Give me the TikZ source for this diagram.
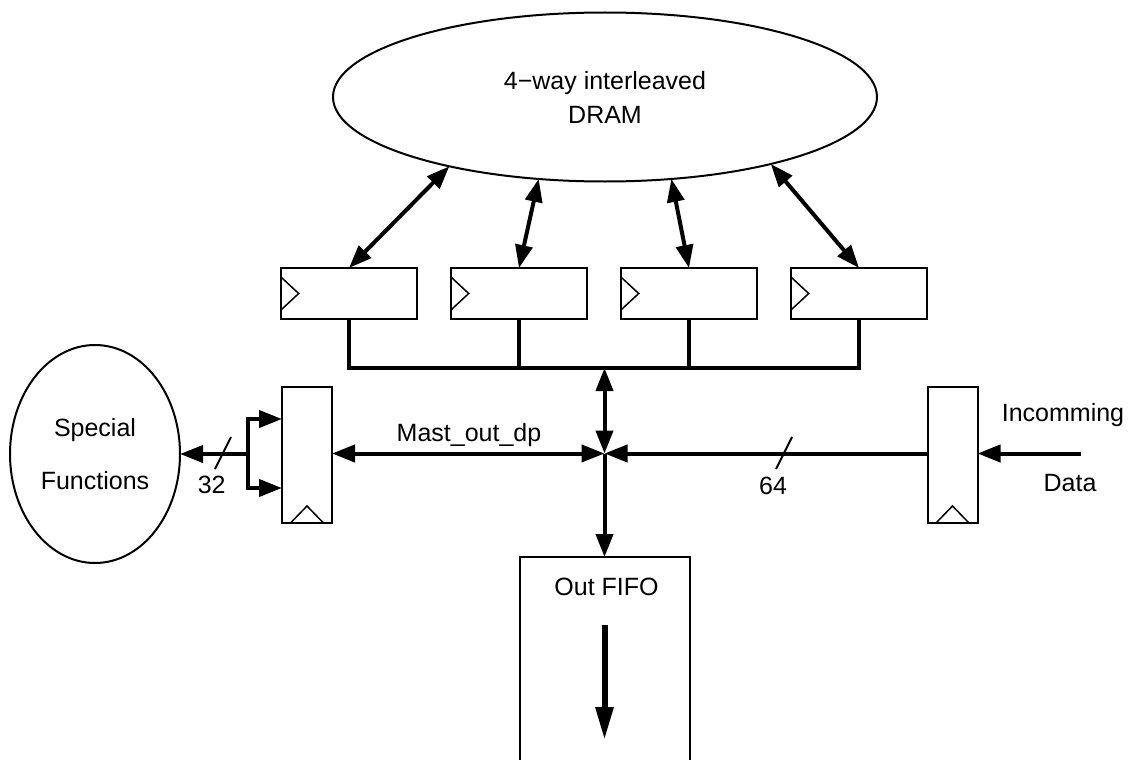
\documentclass[tikz,border=0pt]{standalone}
\usepackage{fontspec}
\setmainfont{Liberation Sans}
\usetikzlibrary{arrows.meta,shapes.geometric}

\begin{document}
\begin{tikzpicture}[x=1pt,y=-1pt,
  font=\fontsize{25}{34}\selectfont,
  >={Triangle[length=23pt,width=17pt]},
  thinline/.style={line width=2pt},
  bus/.style={line width=4pt},
  blob/.style={ellipse,draw,thinline,inner sep=0pt,outer sep=0pt,align=center},
  regbox/.style={draw,thinline,inner sep=0pt,outer sep=0pt,minimum width=136.6pt,minimum height=51pt},
  vreg/.style={draw,thinline,inner sep=0pt,outer sep=0pt,minimum width=50pt,minimum height=136pt},
  clock/.style={line width=1.5pt},
  txt/.style={anchor=base,inner sep=0pt}]
\useasboundingbox (0,0) rectangle (1133,760);

% memory
\node[blob,minimum width=544pt,minimum height=169pt] (dram) at (605,97) {4−way interleaved\\DRAM};

% bank registers
\foreach \i/\x in {1/349,2/519,3/689,4/859}{
  \node[regbox] (r\i) at (\x,293.5) {};
  \draw[clock] ([yshift=16.7pt]r\i.west) -- ([xshift=18pt]r\i.west) -- ([yshift=-16.7pt]r\i.west);
}
\draw[bus,<->] (dram.204.1) -- (r1.north);
\draw[bus,<->] (dram.231.2) -- (r2.north);
\draw[bus,<->] (dram.309.7) -- (r3.north);
\draw[bus,<->] (dram.338.8) -- (r4.north);

% collecting bus
\coordinate (bus) at (604.5,368);
\coordinate (jn) at (604.5,453.5);
\draw[bus] (r1.south) |- (bus) -| (r4.south);
\draw[bus] (r2.south) -- (r2.south |- bus);
\draw[bus] (r3.south) -- (r3.south |- bus);
\draw[bus,<->] (bus) -- (jn);

% output FIFO
\node[inner sep=0pt,outer sep=0pt,minimum width=170pt,minimum height=206pt] (fifo) at (604.5,660) {};
\draw[thinline] (fifo.south west) |- (fifo.north) -| (fifo.south east);
\draw[bus,->] (jn) -- (fifo.north);
\node[txt] (fifotxt) at (606.5,595) {Out FIFO};
\coordinate (qin) at (604.5,625);
\coordinate (qout) at (604.5,740);
\draw[line width=6pt,-{Triangle[length=33pt,width=17pt]}] (qin) -- (qout);

% left register and special functions
\node[vreg] (lreg) at (307,455) {};
\draw[clock] ([xshift=-16.5pt]lreg.south) -- ([yshift=17pt]lreg.south) -- ([xshift=16.5pt]lreg.south);
\draw[bus,<->] (jn) -- (jn -| lreg.east);
\node[txt] (mast) at (469,441.7) {Mast\_out\_dp};

\node[blob,minimum width=170pt,minimum height=218pt] (sf) at (95,454) {Special\\[18.7pt]Functions};
\coordinate (fork) at (248,454);
\coordinate (forkT) at (248,419);
\coordinate (forkB) at (248,488);
\draw[bus,->] (fork) -- (sf.east);
\draw[bus,<->] (forkT -| lreg.west) -- (forkT) -- (forkB) -- (forkB -| lreg.west);
\draw[thinline] (231,437) -- (215,469);
\node[txt] (w32) at (211.7,493.3) {32};

% right register and incoming data
\node[vreg] (rreg) at (952.5,455) {};
\draw[clock] ([xshift=-16.5pt]rreg.south) -- ([yshift=17pt]rreg.south) -- ([xshift=16.5pt]rreg.south);
\draw[bus,->] (jn -| rreg.west) -- (jn);
\coordinate (datain) at (1081,453.5);
\draw[bus,->] (datain) -- (datain -| rreg.east);
\draw[thinline] (792,437) -- (776,469);
\node[txt] (w64) at (773,494) {64};
\node[txt] (inc) at (1063,421.7) {Incomming};
\node[txt] (dat) at (1070,491.7) {Data};
\end{tikzpicture}
\end{document}
